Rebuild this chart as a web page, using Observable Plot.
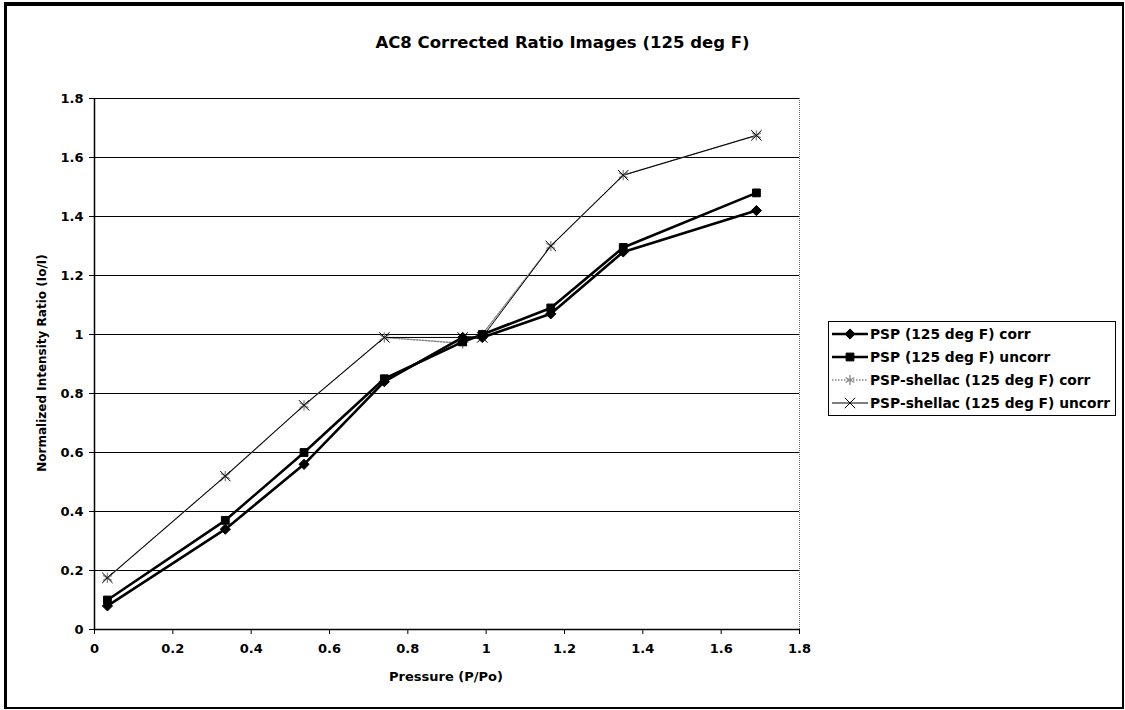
<!DOCTYPE html>
<html>
<head>
<meta charset="utf-8">
<script src="https://cdn.jsdelivr.net/npm/d3@7"></script>
<script src="https://cdn.jsdelivr.net/npm/@observablehq/plot@0.6"></script>
<style>
  html, body { margin: 0; padding: 0; background: #fff; }
  #wrap { position: relative; width: 1125px; height: 710px; overflow: hidden; font-family: "DejaVu Sans", sans-serif; color: #000; }
  #border { position: absolute; left: 4px; top: 2px; width: 1115px; height: 701px; border: 2px solid #000; border-top-width: 4px; border-left-width: 3px; }
  #title { position: absolute; left: 0; width: 1125px; top: 33px; text-align: center; font-weight: bold; font-size: 16.5px; }
  #ylabel { position: absolute; left: 42px; top: 363px; transform: translate(-50%, -50%) rotate(-90deg); white-space: nowrap; font-weight: bold; font-size: 12px; }
  #xlabel { position: absolute; left: 446px; top: 676px; transform: translate(-50%, -50%); white-space: nowrap; font-weight: bold; font-size: 13px; }
  #legend { position: absolute; left: 828px; top: 321px; width: 288px; height: 95px; border: 1px solid #000; background: #fff; box-sizing: border-box; }
  .row { position: absolute; left: 2px; height: 20px; display: flex; align-items: center; white-space: nowrap; font-weight: bold; font-size: 13.8px; }
  .row svg { margin-right: 1px; }
  #chart { position: absolute; left: 0; top: 0; }
</style>
</head>
<body>
<div id="wrap">
  <div id="chart"></div>
  <div id="border"></div>
  <div id="title">AC8 Corrected Ratio Images (125 deg F)</div>
  <div id="ylabel">Normalized Intensity Ratio (Io/I)</div>
  <div id="xlabel">Pressure (P/Po)</div>
  <div id="legend"></div>
</div>
<script>
// ---- data ----
const pressure      = [0.033, 0.334, 0.535, 0.74, 0.94, 0.99, 1.165, 1.35, 1.69];
const pspCorr       = [0.08, 0.34, 0.56, 0.84, 0.99, 0.99, 1.07, 1.28, 1.42];
const pspUncorr     = [0.10, 0.37, 0.60, 0.85, 0.975, 1.00, 1.09, 1.295, 1.48];
const shellacCorr   = [0.175, 0.52, 0.76, 0.99, 0.97, 1.00, 1.30, 1.54, 1.675];
const shellacUncorr = [0.175, 0.52, 0.76, 0.99, 0.99, 0.99, 1.30, 1.54, 1.675];
const seriesNames = [
  "PSP (125 deg F) corr",
  "PSP (125 deg F) uncorr",
  "PSP-shellac (125 deg F) corr",
  "PSP-shellac (125 deg F) uncorr"
];
const tickValues = [0, 0.2, 0.4, 0.6, 0.8, 1, 1.2, 1.4, 1.6, 1.8];

const seriesValues = [pspCorr, pspUncorr, shellacCorr, shellacUncorr];
const styles = [
  {stroke: "#000", width: 2.6, dash: null, symbol: "diamond2", fill: "#000", r: 4.6, sw: 1},
  {stroke: "#000", width: 2.6, dash: null, symbol: "square", fill: "#000", r: 4.4, sw: 1},
  {stroke: "#888", width: 1.5, dash: "1.5,1.5", symbol: "asterisk", fill: "none", r: 4.8, sw: 1.3},
  {stroke: "#000", width: 1, dash: null, symbol: "times", fill: "none", r: 4.8, sw: 1}
];

const table = [];
seriesNames.forEach((name, i) => {
  pressure.forEach((p, j) => table.push({series: name, x: p, y: seriesValues[i][j]}));
});

const drawOrder = [2, 3, 1, 0];
const marks = [
  Plot.gridY(tickValues.slice(1), {stroke: "#000", strokeOpacity: 1, strokeWidth: 1}),
  Plot.ruleX([1.8], {stroke: "#666", strokeDasharray: "1,1"}),
  Plot.axisY({ticks: tickValues, tickFormat: d => String(+d.toFixed(1)), tickSize: 5, tickPadding: 6, label: null}),
  Plot.axisX({ticks: tickValues, tickFormat: d => String(+d.toFixed(1)), tickSize: 5, tickPadding: 9, label: null}),
  Plot.ruleY([0], {stroke: "#000", strokeWidth: 1.5}),
  Plot.ruleX([0], {stroke: "#000", strokeWidth: 1.5})
];
for (const i of drawOrder) {
  const st = styles[i];
  const d = table.filter(r => r.series === seriesNames[i]);
  marks.push(Plot.line(d, {x: "x", y: "y", stroke: st.stroke, strokeWidth: st.width, strokeDasharray: st.dash}));
}
for (const i of drawOrder) {
  const st = styles[i];
  const d = table.filter(r => r.series === seriesNames[i]);
  marks.push(Plot.dot(d, {x: "x", y: "y", symbol: () => st.symbol, r: st.r, fill: st.fill, stroke: st.fill === "none" ? st.stroke : st.fill, strokeWidth: st.sw}));
}

const chart = Plot.plot({
  width: 1125,
  height: 710,
  marginLeft: 94,
  marginRight: 326,
  marginTop: 98,
  marginBottom: 81,
  inset: 0,
  x: {domain: [0, 1.8], axis: null},
  y: {domain: [0, 1.8], axis: null},
  symbol: {type: "identity"},
  style: {fontFamily: "DejaVu Sans, sans-serif", fontSize: "13px", fontWeight: "bold", color: "#000", background: "transparent"},
  marks
});
document.getElementById("chart").appendChild(chart);

// ---- legend ----
const legend = document.getElementById("legend");
const symMap = {diamond2: d3.symbolDiamond2, square: d3.symbolSquare, asterisk: d3.symbolAsterisk, times: d3.symbolTimes};
seriesNames.forEach((name, i) => {
  const st = styles[i];
  const row = document.createElement("div");
  row.className = "row";
  row.style.top = (2 + i * 23) + "px";
  const ns = "http://www.w3.org/2000/svg";
  const s = document.createElementNS(ns, "svg");
  s.setAttribute("width", 38); s.setAttribute("height", 14);
  const ln = document.createElementNS(ns, "line");
  ln.setAttribute("x1", 1); ln.setAttribute("x2", 37); ln.setAttribute("y1", 7); ln.setAttribute("y2", 7);
  ln.setAttribute("stroke", st.stroke); ln.setAttribute("stroke-width", st.width);
  if (st.dash) ln.setAttribute("stroke-dasharray", st.dash);
  s.appendChild(ln);
  const p = document.createElementNS(ns, "path");
  p.setAttribute("d", d3.symbol(symMap[st.symbol], Math.PI * st.r * st.r)());
  p.setAttribute("transform", "translate(19,7)");
  p.setAttribute("fill", st.fill);
  p.setAttribute("stroke", st.fill === "none" ? st.stroke : st.fill);
  p.setAttribute("stroke-width", st.sw);
  s.appendChild(p);
  row.appendChild(s);
  const t = document.createElement("span");
  t.textContent = name;
  row.appendChild(t);
  legend.appendChild(row);
});
</script>
</body>
</html>
